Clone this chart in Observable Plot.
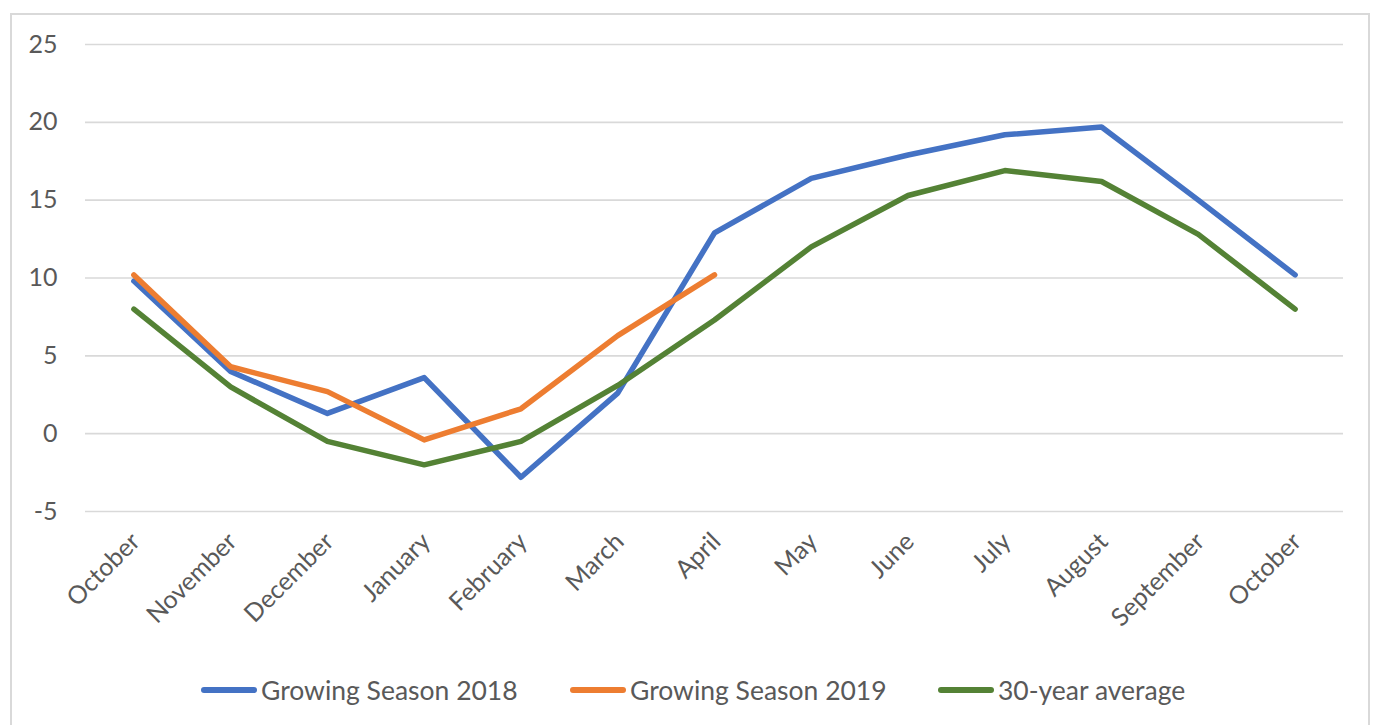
<!DOCTYPE html>
<html>
<head>
<meta charset="utf-8">
<script src="https://cdn.jsdelivr.net/npm/d3@7"></script>
<script src="https://cdn.jsdelivr.net/npm/@observablehq/plot@0.6"></script>
<style>
  html, body { margin: 0; padding: 0; background: #fff; }
  body { width: 1376px; height: 725px; position: relative; overflow: hidden; font-family: Lato, "Open Sans", sans-serif; }
  #frame { position: absolute; left: 10px; top: 13px; width: 1360px; height: 760px; border: 2px solid #d9d9d9; box-sizing: border-box; }
  #chart { position: absolute; left: 0; top: 0; }
  #chart svg { background: transparent !important; }
  #legend { position: absolute; top: 672px; left: 0; width: 1376px; height: 36px; }
  .item { position: absolute; top: 0; display: flex; align-items: center; height: 36px; color: #595959; font-size: 26.5px; white-space: nowrap; }
  .sw { display: inline-block; width: 56px; height: 5.5px; border-radius: 3px; margin-right: 4px; }
</style>
</head>
<body>
<div id="frame"></div>
<div id="chart"></div>
<div id="legend"></div>
<script>
const months = ["October","November","December","January","February","March","April","May","June","July","August","September","October"];
const season2018 = [9.8, 4.0, 1.3, 3.6, -2.8, 2.6, 12.9, 16.4, 17.9, 19.2, 19.7, 15.0, 10.2];
const season2019 = [10.2, 4.3, 2.7, -0.4, 1.6, 6.3, 10.2];
const average30 = [8.0, 3.0, -0.5, -2.0, -0.5, 3.1, 7.3, 12.0, 15.3, 16.9, 16.2, 12.8, 8.0];
const seriesNames = ["Growing Season 2018", "Growing Season 2019", "30-year average"];
const seriesColors = ["#4472C4", "#ED7D31", "#548235"];
const yTicks = [-5, 0, 5, 10, 15, 20, 25];

const rows = [];
[season2018, season2019, average30].forEach((arr, s) => {
  arr.forEach((v, i) => rows.push({i, v, series: seriesNames[s]}));
});

const chart = Plot.plot({
  width: 1376,
  height: 640,
  marginLeft: 85,
  marginRight: 33,
  marginTop: 44,
  marginBottom: 129,
  style: {fontFamily: "Lato, 'Open Sans', sans-serif", fontSize: "25px", color: "#595959", background: "transparent"},
  x: {type: "linear", domain: [-0.5, months.length - 0.5], label: null},
  y: {domain: [-5, 25], label: null},
  color: {domain: seriesNames, range: seriesColors},
  marks: [
    Plot.gridY(yTicks, {stroke: "#d9d9d9", strokeOpacity: 1, strokeWidth: 1.6}),
    Plot.axisY(yTicks, {tickSize: 0, tickPadding: 28, label: null, fill: "#595959", fontSize: 25, tickFormat: d => String(d)}),
    Plot.axisX(d3.range(months.length), {tickSize: 0, tickPadding: 26, tickRotate: -45, tickFormat: i => months[i], label: null, fill: "#595959", fontSize: 25, dx: 2}),
    Plot.line(rows, {x: "i", y: "v", z: "series", stroke: "series", strokeWidth: 5.5, strokeLinejoin: "round", strokeLinecap: "round"})
  ]
});
document.getElementById("chart").appendChild(chart);

const legendPos = [201, 570, 938];
const legend = document.getElementById("legend");
seriesNames.forEach((name, k) => {
  const it = document.createElement("div");
  it.className = "item";
  it.style.left = legendPos[k] + "px";
  it.innerHTML = `<span class="sw" style="background:${seriesColors[k]}"></span><span>${name}</span>`;
  legend.appendChild(it);
});
</script>
</body>
</html>
